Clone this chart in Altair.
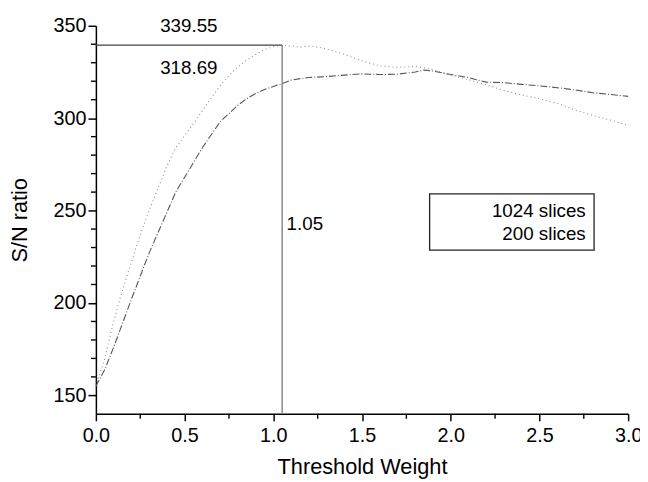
import altair as alt
import pandas as pd

# ---- data ----
w_1024 = [0.0, 0.05, 0.1, 0.15, 0.2, 0.25, 0.3, 0.35, 0.4, 0.45, 0.5, 0.55, 0.6, 0.65, 0.7,
          0.75, 0.8, 0.85, 0.9, 0.95, 1.0, 1.05, 1.1, 1.15, 1.2, 1.25, 1.3, 1.4, 1.5, 1.6,
          1.7, 1.8, 1.9, 2.0, 2.1, 2.2, 2.3, 2.4, 2.5, 2.6, 2.7, 2.8, 2.9, 3.0]
sn_1024 = [155, 170, 190, 207, 222, 237, 250, 262, 274, 284, 290.5, 297, 304, 311, 317.5,
           323, 327.7, 331.5, 334.5, 337, 338.7, 339.55, 339, 338.5, 339, 338.5, 337.5, 334.5, 331, 328.3,
           327.5, 328, 326.3, 323.3, 320.8, 318, 315, 312.5, 310.5, 308, 304.5, 301.5, 299, 296]

w_200 = [0.0, 0.05, 0.1, 0.15, 0.2, 0.25, 0.3, 0.35, 0.4, 0.45, 0.5, 0.55, 0.6, 0.65, 0.7,
         0.75, 0.8, 0.85, 0.9, 0.95, 1.0, 1.05, 1.1, 1.15, 1.2, 1.3, 1.4, 1.5, 1.6, 1.7,
         1.8, 1.85, 1.9, 2.0, 2.1, 2.2, 2.3, 2.4, 2.5, 2.6, 2.7, 2.8, 2.9, 3.0]
sn_200 = [155, 164, 176, 189, 202, 214.5, 227, 238, 249, 260, 268, 276, 284, 291, 298,
          302.5, 307, 310.5, 313.3, 315.5, 317.2, 318.69, 320.6, 321.4, 322, 322.5, 323.3, 324, 323.6, 323.8,
          325, 326, 325.5, 323.6, 322, 319.5, 319.2, 318.3, 317.5, 316.5, 315.3, 313.8, 312.8, 311.8]

series_names = ["1024 slices", "200 slices"]

peak_w = 1.05
peak_1024 = 339.55
val_200 = 318.69
y_floor = 140

x_major = [0.0, 0.5, 1.0, 1.5, 2.0, 2.5, 3.0]
x_minor = [0.25, 0.75, 1.25, 1.75, 2.25, 2.75]
y_major = [150, 200, 250, 300, 350]
y_minor = [160, 170, 180, 190, 210, 220, 230, 240, 260, 270, 280, 290, 310, 320, 330, 340]

# annotation texts
ann_text = ["339.55", "318.69"]
ann_x = [0.524, 0.524]
ann_y = [349.6, 327.2]
w_label = "1.05"
w_label_x = 1.075
w_label_y = 242.5

# legend box (drawn as a text box like the reference)
box_x = [1.881]
box_x2 = [2.808]
box_y = [259]
box_y2 = [228.6]
leg_x = [2.761, 2.761]
leg_y = [250, 237.5]

FONT = "Liberation Sans"
W, H = 539, 393

df = pd.concat([
    pd.DataFrame({"w": w_1024, "sn": sn_1024, "series": series_names[0]}),
    pd.DataFrame({"w": w_200, "sn": sn_200, "series": series_names[1]}),
])

xscale = alt.Scale(domain=[0, 3], nice=False, zero=False)
yscale = alt.Scale(domain=[140, 350], nice=False, zero=False)

xaxis = alt.Axis(values=x_major, format=".1f", tickSize=7, tickWidth=1.5, tickColor="black",
                 domainColor="black", domainWidth=1.5, labelFontSize=20, labelFont=FONT,
                 labelColor="black", labelPadding=5, titleFontSize=22, titleFont=FONT,
                 titleFontWeight="normal", titleColor="black", titlePadding=11, orient="bottom",
                 labelFlush=False)
yaxis = alt.Axis(values=y_major, tickSize=8, tickWidth=1.5, tickColor="black",
                 domainColor="black", domainWidth=1.5, labelFontSize=20, labelFont=FONT,
                 labelColor="black", labelPadding=2, titleFontSize=22, titleFont=FONT,
                 titleFontWeight="normal", titleColor="black", titlePadding=22, orient="left")

lines = alt.Chart(df).mark_line(strokeWidth=1.1).encode(
    x=alt.X("w:Q", scale=xscale, axis=xaxis, title="Threshold Weight"),
    y=alt.Y("sn:Q", scale=yscale, axis=yaxis, title="S/N ratio"),
    color=alt.Color("series:N", scale=alt.Scale(domain=series_names, range=["#8c8c8c", "#555555"]), legend=None),
    strokeDash=alt.StrokeDash("series:N", scale=alt.Scale(domain=series_names, range=[[1, 3], [7, 2, 1, 2]]), legend=None),
)

# minor ticks drawn as short rules at data positions
ymin_df = pd.DataFrame({"y": y_minor})
yminor = alt.Chart(ymin_df).mark_rule(color="black", strokeWidth=1.4).encode(
    y=alt.Y("y:Q", scale=yscale, axis=None), x=alt.value(-5), x2=alt.value(0))

xmin_df = pd.DataFrame({"x": x_minor})
xminor = alt.Chart(xmin_df).mark_rule(color="black", strokeWidth=1.4).encode(
    x=alt.X("x:Q", scale=xscale, axis=None), y=alt.value(H), y2=alt.value(H + 5))

hdf = pd.DataFrame({"x": [0.0], "x2": [peak_w], "y": [peak_1024]})
hline = alt.Chart(hdf).mark_rule(color="#444444", strokeWidth=1.2).encode(
    x=alt.X("x:Q", scale=xscale, axis=None), x2="x2:Q", y=alt.Y("y:Q", scale=yscale, axis=None))

vdf = pd.DataFrame({"x": [peak_w], "y": [y_floor], "y2": [peak_1024]})
vline = alt.Chart(vdf).mark_rule(color="#8a8a8a", strokeWidth=1.5).encode(
    x=alt.X("x:Q", scale=xscale, axis=None), y=alt.Y("y:Q", scale=yscale, axis=None), y2="y2:Q")

tdf = pd.DataFrame({"x": ann_x, "y": ann_y, "t": ann_text})
texts = alt.Chart(tdf).mark_text(font=FONT, fontSize=19, color="black", align="center", baseline="middle").encode(
    x=alt.X("x:Q", scale=xscale, axis=None), y=alt.Y("y:Q", scale=yscale, axis=None), text="t:N")

wdf = pd.DataFrame({"x": [w_label_x], "y": [w_label_y], "t": [w_label]})
wtext = alt.Chart(wdf).mark_text(font=FONT, fontSize=19, color="black", align="left", baseline="middle").encode(
    x=alt.X("x:Q", scale=xscale, axis=None), y=alt.Y("y:Q", scale=yscale, axis=None), text="t:N")

bdf = pd.DataFrame({"x": box_x, "x2": box_x2, "y": box_y, "y2": box_y2})
box = alt.Chart(bdf).mark_rect(fill="white", stroke="#222222", strokeWidth=1.3).encode(
    x=alt.X("x:Q", scale=xscale, axis=None), x2="x2:Q", y=alt.Y("y:Q", scale=yscale, axis=None), y2="y2:Q")

ldf = pd.DataFrame({"x": leg_x, "y": leg_y, "t": series_names})
ltext = alt.Chart(ldf).mark_text(font=FONT, fontSize=19, color="black", align="right", baseline="middle").encode(
    x=alt.X("x:Q", scale=xscale, axis=None), y=alt.Y("y:Q", scale=yscale, axis=None), text="t:N")

chart = alt.layer(lines, yminor, xminor, hline, vline, texts, wtext, box, ltext).resolve_axis(
    x="independent", y="independent"
).properties(
    width=W, height=H,
    autosize=alt.AutoSizeParams(type="none"),
    padding={"left": 89, "top": 15, "right": 12, "bottom": 66},
).configure_view(stroke=None).configure_axis(grid=False)

chart.save("out.html", embed_options={"renderer": "svg", "actions": False})
